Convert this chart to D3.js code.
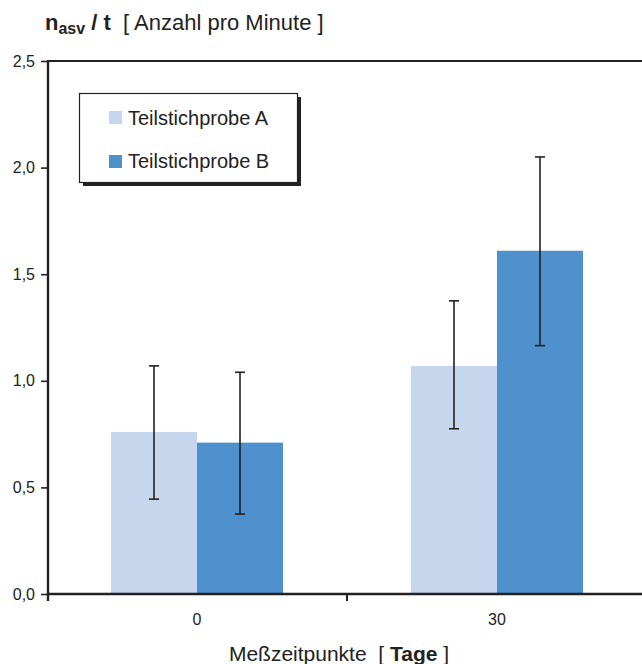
<!DOCTYPE html>
<html><head><meta charset="utf-8">
<script src="https://cdn.jsdelivr.net/npm/d3@7"></script>
<style>body{margin:0;background:#fff;} svg{display:block;font-family:"Liberation Sans",Arial,sans-serif;}</style>
</head><body>
<svg id="c" width="642" height="664"></svg>
<script>
const categories = ["0", "30"];
const seriesNames = ["Teilstichprobe A", "Teilstichprobe B"];
const seriesColors = ["#c6d6ed", "#4f91cd"];
const valuesA = [0.76, 1.07];
const valuesB = [0.71, 1.61];
const errLowA = [0.445, 0.775];
const errHighA = [1.07, 1.375];
const errLowB = [0.375, 1.165];
const errHighB = [1.04, 2.05];
const yTicks = [0, 0.5, 1.0, 1.5, 2.0, 2.5];

const svg = d3.select("#c");
const x0 = d3.scaleBand().domain(categories).range([47, 647]).paddingInner(0).paddingOuter(0);
const x1 = d3.scaleBand().domain(seriesNames).range([0, 300]).paddingInner(0).paddingOuter(0.744);
const y = d3.scaleLinear().domain([0, 2.5]).range([594, 61]);

const data = categories.map((c, i) => ({
  cat: c,
  bars: [
    {s: seriesNames[0], v: valuesA[i], lo: errLowA[i], hi: errHighA[i], col: seriesColors[0]},
    {s: seriesNames[1], v: valuesB[i], lo: errLowB[i], hi: errHighB[i], col: seriesColors[1]}
  ]
}));

const g = svg.selectAll("g.grp").data(data).enter().append("g")
  .attr("transform", d => `translate(${x0(d.cat)},0)`);
g.selectAll("rect").data(d => d.bars).enter().append("rect")
  .attr("x", d => x1(d.s)).attr("width", x1.bandwidth())
  .attr("y", d => y(d.v)).attr("height", d => y(0) - y(d.v))
  .attr("fill", d => d.col);

const eb = g.selectAll("g.eb").data(d => d.bars).enter().append("g")
  .attr("stroke", "#222").attr("stroke-width", 1.6);
const cx = d => x1(d.s) + x1.bandwidth() / 2;
eb.append("line").attr("x1", cx).attr("x2", cx).attr("y1", d => y(d.lo)).attr("y2", d => y(d.hi));
eb.append("line").attr("x1", d => cx(d) - 5).attr("x2", d => cx(d) + 5).attr("y1", d => y(d.hi)).attr("y2", d => y(d.hi));
eb.append("line").attr("x1", d => cx(d) - 5).attr("x2", d => cx(d) + 5).attr("y1", d => y(d.lo)).attr("y2", d => y(d.lo));

// top frame line
svg.append("line").attr("x1", 47).attr("x2", 642).attr("y1", y(2.5)).attr("y2", y(2.5))
  .attr("stroke", "#222").attr("stroke-width", 2.2);

// y axis
const yAxis = d3.axisLeft(y).tickValues(yTicks).tickSize(7).tickPadding(6)
  .tickFormat(d => d3.format(".1f")(d).replace(".", ","));
const ya = svg.append("g").attr("transform", "translate(48,0)").call(yAxis);
ya.select(".domain").attr("stroke", "#222").attr("stroke-width", 2.4).attr("d", `M0,${y(2.5)-1}V${y(0)+7}`);
ya.selectAll(".tick line").attr("stroke", "#222").attr("stroke-width", 1.6);
ya.selectAll(".tick text").attr("font-size", 16).attr("fill", "#222").attr("font-family", "Liberation Sans, Arial, sans-serif");

// x axis
const xa = svg.append("g").attr("transform", `translate(0,${y(0)})`)
  .call(d3.axisBottom(x0).tickSize(0).tickPadding(20));
xa.select(".domain").attr("stroke", "#222").attr("stroke-width", 2.4).attr("d", "M47,0H642");
xa.selectAll(".tick text").attr("font-size", 16).attr("fill", "#222").attr("font-family", "Liberation Sans, Arial, sans-serif");
xa.append("line").attr("x1", x0("30")).attr("x2", x0("30")).attr("y1", 0).attr("y2", 7)
  .attr("stroke", "#222").attr("stroke-width", 2);

// title
const t = svg.append("text").attr("x", 45).attr("y", 30).attr("font-size", 22).attr("fill", "#222");
t.append("tspan").attr("font-weight", "bold").text("n");
t.append("tspan").attr("font-weight", "bold").attr("font-size", 16).attr("dy", 4).text("asv");
t.append("tspan").attr("font-weight", "bold").attr("dy", -4).text(" / t");
t.append("tspan").text("\u00a0 [ Anzahl pro Minute ]");

// x axis title
const xt = svg.append("text").attr("x", 339).attr("y", 661).attr("text-anchor", "middle").attr("font-size", 21).attr("fill", "#222");
xt.append("tspan").text("Meßzeitpunkte \u00a0[ ");
xt.append("tspan").attr("font-weight", "bold").text("Tage");
xt.append("tspan").text(" ]");

// legend
const lg = svg.append("g");
lg.append("rect").attr("x", 83).attr("y", 97).attr("width", 218).attr("height", 89).attr("fill", "#222");
lg.append("rect").attr("x", 79.5).attr("y", 93.5).attr("width", 218).attr("height", 89).attr("fill", "#fff").attr("stroke", "#222").attr("stroke-width", 1.2);
seriesNames.forEach((s, i) => {
  lg.append("rect").attr("x", 109).attr("y", 111 + i * 44).attr("width", 13).attr("height", 13).attr("fill", seriesColors[i]);
  lg.append("text").attr("x", 128).attr("y", 125 + i * 43).attr("font-size", 20).attr("fill", "#222").text(s);
});
</script>
</body></html>
